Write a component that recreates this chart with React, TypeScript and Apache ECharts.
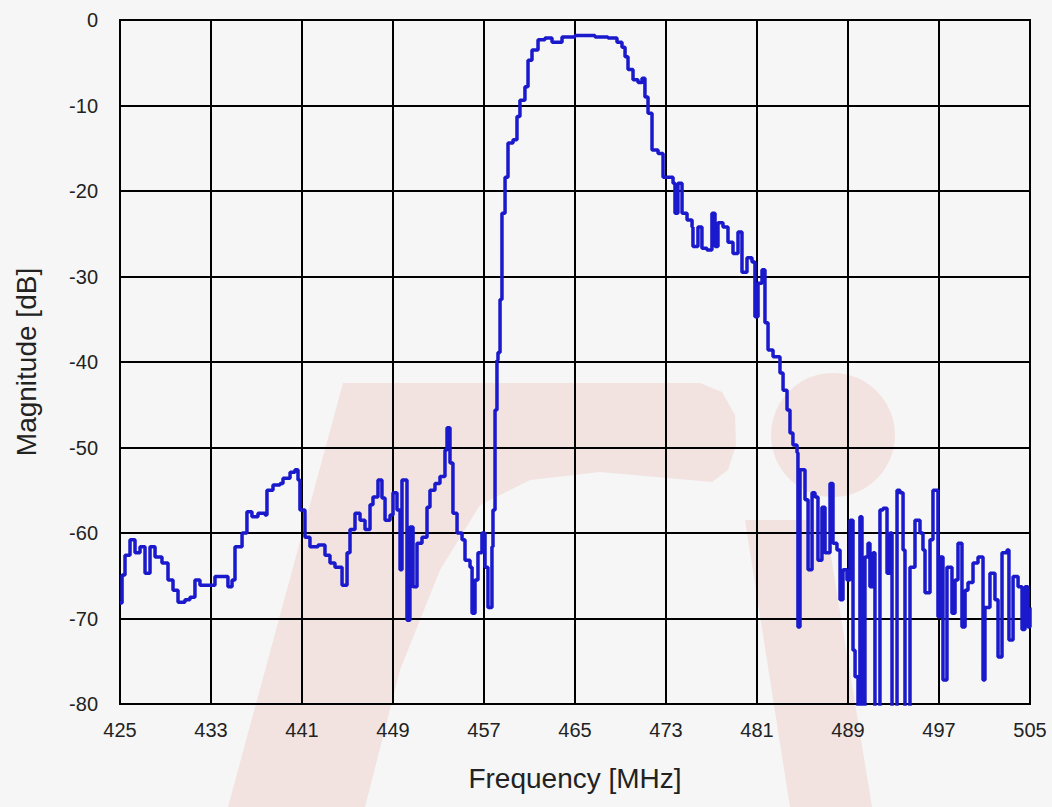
import React, { useEffect, useRef } from "react";
import * as echarts from "echarts";

const freqMHz: number[] = [
  425.0, 425.18, 425.44, 425.88, 426.32, 426.76, 427.2, 427.64, 428.08, 428.69,
  429.22, 429.66, 430.1, 430.71, 431.15, 431.59, 432.03, 432.74, 433.35, 433.97,
  434.49, 434.85, 435.11, 435.73, 436.16, 436.6, 437.13, 437.75, 437.92, 438.45,
  439.07, 439.33, 439.95, 440.38, 440.65, 440.82, 441.26, 441.7, 442.41, 443.02,
  443.46, 443.9, 444.52, 444.96, 445.22, 445.66, 446.1, 446.54, 446.98, 447.24,
  447.68, 448.03, 448.3, 448.74, 449.0, 449.35, 449.62, 449.79, 450.05, 450.23,
  450.49, 450.76, 451.11, 451.55, 451.99, 452.25, 452.69, 453.13, 453.57, 453.75,
  454.01, 454.27, 454.63, 455.07, 455.33, 455.77, 455.95, 456.21, 456.47, 456.82,
  457.09, 457.35, 457.7, 457.79, 457.97, 458.14, 458.23, 458.41, 458.58, 458.85,
  459.11, 459.55, 459.9, 460.16, 460.6, 460.87, 461.22, 461.75, 462.36, 462.98,
  463.86, 465.0, 465.88, 466.76, 467.9, 468.69, 469.13, 469.4, 469.66, 470.1,
  470.54, 470.89, 471.15, 471.42, 471.77, 472.3, 472.74, 473.18, 473.62, 473.79,
  474.05, 474.41, 474.85, 475.29, 475.37, 475.81, 476.16, 476.6, 477.04, 477.31,
  477.57, 478.01, 478.45, 478.89, 479.33, 479.68, 480.12, 480.56, 480.82, 481.09,
  481.44, 481.7, 481.97, 482.41, 483.02, 483.29, 483.64, 483.9, 484.16, 484.52,
  484.6, 484.78, 485.22, 485.49, 485.84, 486.1, 486.36, 486.71, 486.98, 487.42,
  487.68, 488.03, 488.3, 488.56, 488.91, 489.18, 489.44, 489.62, 489.88, 490.05,
  490.23, 490.49, 490.76, 490.93, 491.2, 491.37, 491.81, 492.08, 492.43, 492.69,
  492.87, 493.31, 493.57, 493.84, 494.01, 494.45, 494.89, 495.33, 495.59, 495.77,
  496.21, 496.47, 496.74, 496.91, 497.09, 497.35, 497.7, 498.14, 498.41, 498.67,
  499.02, 499.29, 499.55, 499.99, 500.43, 500.87, 501.04, 501.48, 501.92, 502.19,
  502.54, 502.98, 503.15, 503.51, 503.95, 504.3, 504.56, 504.82, 505.0,
];

const magnitudeDb: number[] = [
  -68.2, -64.9, -62.6, -60.8, -62.3, -61.6, -64.7, -61.6, -62.8, -63.5,
  -65.5, -66.7, -68.1, -67.8, -67.5, -65.5, -66.1, -66.1, -65.1, -65.1,
  -66.3, -65.5, -61.6, -60.0, -57.5, -58.1, -57.7, -57.9, -55.0, -54.4,
  -54.2, -53.6, -52.9, -52.6, -53.8, -57.3, -60.5, -61.6, -61.4, -62.6,
  -63.5, -64.0, -66.1, -62.3, -59.6, -57.7, -58.5, -59.6, -56.7, -55.8,
  -53.8, -55.9, -58.5, -57.9, -55.3, -57.3, -64.3, -53.8, -53.8, -70.2,
  -59.3, -66.3, -61.2, -60.5, -57.0, -55.0, -54.2, -53.4, -50.3, -47.7,
  -51.8, -57.7, -60.0, -60.8, -63.2, -64.0, -69.4, -65.5, -62.3, -60.0,
  -64.0, -68.7, -61.6, -57.3, -45.6, -39.8, -38.9, -32.7, -22.6, -18.4,
  -14.4, -14.0, -11.3, -9.4, -7.8, -4.7, -3.5, -2.3, -2.1, -2.6,
  -2.0, -1.8, -1.8, -2.0, -2.1, -2.6, -3.2, -4.3, -5.8, -7.0,
  -7.3, -6.8, -9.0, -10.9, -15.2, -15.6, -18.4, -18.4, -19.1, -22.6,
  -19.1, -22.6, -23.4, -24.2, -26.5, -24.2, -26.7, -26.9, -22.6, -26.5,
  -23.7, -24.2, -26.0, -27.3, -24.8, -29.5, -27.8, -28.3, -34.7, -30.8,
  -29.2, -35.4, -38.6, -39.4, -41.3, -43.3, -45.6, -48.3, -49.7, -50.6,
  -71.0, -52.6, -56.1, -64.3, -55.3, -55.8, -63.2, -57.0, -62.3, -54.2,
  -61.2, -62.0, -67.8, -64.3, -65.5, -58.5, -73.7, -76.8, -85.0, -58.1,
  -85.0, -62.8, -61.2, -66.3, -62.3, -85.0, -57.3, -57.1, -64.7, -60.0,
  -85.0, -55.0, -55.3, -62.0, -85.0, -64.0, -58.5, -60.0, -62.0, -67.0,
  -60.8, -55.0, -55.0, -69.8, -62.8, -77.2, -64.0, -69.4, -65.5, -61.2,
  -71.0, -66.7, -65.8, -63.5, -62.8, -77.2, -68.7, -64.7, -67.8, -74.5,
  -62.3, -62.0, -72.5, -65.1, -66.3, -71.3, -66.3, -71.0, -68.7,
];

const xTicks: number[] = [425, 433, 441, 449, 457, 465, 473, 481, 489, 497, 505];
const yTicks: number[] = [0, -10, -20, -30, -40, -50, -60, -70, -80];

const xName = "Frequency [MHz]";
const yName = "Magnitude [dB]";

export default function App() {
  const ref = useRef<HTMLDivElement>(null);

  useEffect(() => {
    if (!ref.current) return;
    const chart = echarts.init(ref.current, undefined, { renderer: "svg" });
    const seriesData = freqMHz.map((f, i) => [f, magnitudeDb[i]]);
    const pink = "rgba(232, 170, 165, 0.25)";
    const font = "Liberation Sans, Arial, sans-serif";
    chart.setOption({
      animation: false,
      backgroundColor: "#f6f6f6",
      graphic: [
        {
          type: "polygon",
          z: -10,
          silent: true,
          shape: {
            points: [
              [228, 807], [343, 383], [700, 383], [722, 392], [735, 415],
              [736, 445], [728, 470], [712, 482], [600, 472], [530, 480],
              [480, 505], [440, 570], [400, 670], [365, 807],
            ],
          },
          style: { fill: pink },
        },
        {
          type: "circle",
          z: -10,
          silent: true,
          shape: { cx: 833, cy: 435, r: 62 },
          style: { fill: pink },
        },
        {
          type: "polygon",
          z: -10,
          silent: true,
          shape: {
            points: [[745, 520], [825, 520], [872, 807], [790, 807]],
          },
          style: { fill: pink },
        },
      ],
      grid: {
        left: 120,
        right: 22,
        top: 20,
        bottom: 103,
        show: true,
        borderColor: "#000",
        borderWidth: 2,
        backgroundColor: "transparent",
      },
      xAxis: {
        type: "value",
        min: 425,
        max: 505,
        interval: 8,
        name: xName,
        nameLocation: "middle",
        nameGap: 60,
        nameTextStyle: { fontFamily: font, fontSize: 28, color: "#222" },
        axisLine: { show: true, lineStyle: { color: "#000", width: 2 } },
        axisTick: { show: false },
        axisLabel: {
          margin: 16,
          fontFamily: font,
          fontSize: 20,
          color: "#222",
          formatter: (v: number) => (xTicks.includes(v) ? String(v) : ""),
        },
        splitLine: { show: true, lineStyle: { color: "#000", width: 2 } },
      },
      yAxis: {
        type: "value",
        min: -80,
        max: 0,
        interval: 10,
        name: yName,
        nameLocation: "middle",
        nameGap: 80,
        nameTextStyle: { fontFamily: font, fontSize: 28, color: "#222" },
        axisLine: { show: true, lineStyle: { color: "#000", width: 2 } },
        axisTick: { show: false },
        axisLabel: {
          margin: 22,
          fontFamily: font,
          fontSize: 20,
          color: "#222",
          formatter: (v: number) => (yTicks.includes(v) ? String(v) : ""),
        },
        splitLine: { show: true, lineStyle: { color: "#000", width: 2 } },
      },
      series: [
        {
          type: "line",
          data: seriesData,
          step: "end",
          showSymbol: false,
          clip: true,
          lineStyle: { color: "#1a1acc", width: 3.5 },
        },
      ],
    });
    return () => chart.dispose();
  }, []);

  return (
    <div
      ref={ref}
      style={{ position: "fixed", left: 0, top: 0, width: 1052, height: 807 }}
    />
  );
}
